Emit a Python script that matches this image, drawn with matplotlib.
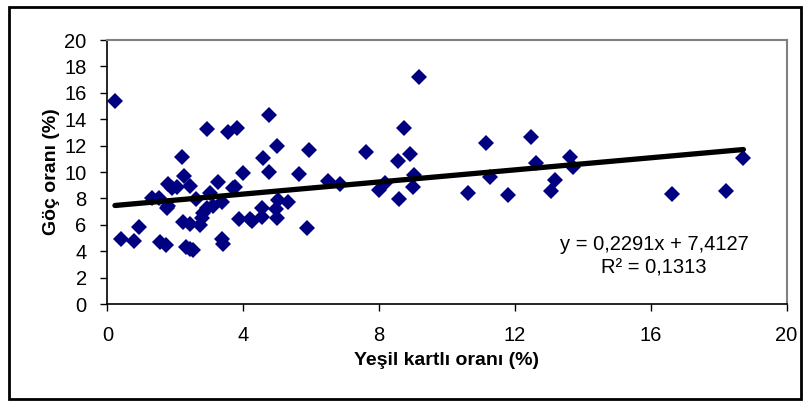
import matplotlib
matplotlib.use('Agg')
from matplotlib import pyplot as plt
from matplotlib.patches import Rectangle

plt.rcParams['font.family'] = ['Liberation Sans', 'DejaVu Sans']

# Yesil kartli orani (%) ve Goc orani (%)
yesil = [0.22, 0.39, 0.78, 0.93, 1.30, 1.53, 1.55, 1.72, 1.74, 1.79,
         1.77, 1.89, 2.04, 2.20, 2.26, 2.43, 2.23, 2.43, 2.31, 2.43,
         2.53, 2.60, 2.72, 2.77, 2.82, 2.92, 2.94, 3.02, 3.12, 3.26,
         3.36, 3.36, 3.39, 3.56, 3.70, 3.76, 3.82, 3.88, 4.00, 4.20,
         4.25, 4.56, 4.56, 4.57, 4.77, 4.77, 4.95, 4.98, 5.03, 5.00,
         5.33, 5.65, 5.87, 5.94, 6.49, 6.85, 7.61, 8.00, 8.17, 8.57,
         8.60, 8.74, 8.91, 8.99, 9.03, 9.18, 10.61, 11.15, 11.27, 11.79,
         12.47, 12.62, 13.05, 13.18, 13.62, 13.70, 16.64, 18.22, 18.73]
goc = [15.4, 4.92, 4.80, 5.86, 8.00, 8.00, 4.72, 4.47, 7.30, 7.45,
       9.09, 8.76, 8.84, 11.16, 9.72, 8.96, 6.19, 6.06, 4.29, 4.14,
       4.09, 7.93, 5.98, 6.49, 6.87, 7.25, 13.28, 8.38, 7.45, 9.27,
       7.75, 4.92, 4.55, 13.03, 8.76, 8.89, 13.36, 6.41, 9.90, 6.42,
       6.31, 7.30, 6.60, 11.08, 14.32, 10.00, 7.20, 6.49, 7.88, 12.00,
       7.75, 9.85, 5.73, 11.70, 9.34, 9.09, 11.54, 8.64, 9.19, 10.83,
       7.98, 13.30, 11.36, 8.89, 9.77, 17.20, 8.43, 12.20, 9.60, 8.23,
       12.63, 10.66, 8.58, 9.39, 11.11, 10.40, 8.31, 8.56, 11.08]

# Trend cizgisi katsayilari (grafikte yazan)
egim = 0.2291
kesim = 7.4127
r2 = 0.1313

fig = plt.figure(figsize=(8.1, 4.08), dpi=100)
ax = fig.add_axes([0.1327, 0.2549, 0.8383, 0.647])

ax.plot(yesil, goc, 'D', color='#000080', markersize=8, markeredgewidth=0, zorder=3)

xs = [min(yesil), max(yesil)]
ys = [egim * v + kesim for v in xs]
ax.plot(xs, ys, color='black', linewidth=3.8, solid_capstyle='round', zorder=4)

ax.set_xlim(0, 20)
ax.set_ylim(0, 20)
ax.set_xticks(range(0, 21, 4))
ax.set_yticks(range(0, 21, 2))
ax.tick_params(direction='out', length=5, width=1, labelsize=14.5, colors='black')
ax.tick_params(axis='x', pad=11)
ax.tick_params(axis='y', pad=10)

for s in ['top', 'right']:
    ax.spines[s].set_color('#808080')
    ax.spines[s].set_linewidth(1.5)
for s in ['left', 'bottom']:
    ax.spines[s].set_color('black')
    ax.spines[s].set_linewidth(1.2)

ax.set_xlabel('Yeşil kartlı oranı (%)', fontsize=14, fontweight='bold', labelpad=5)
ax.set_ylabel('Göç oranı (%)', fontsize=14, fontweight='bold', labelpad=3)

denk = 'y = ' + str(egim).replace('.', ',') + 'x + ' + str(kesim).replace('.', ',')
ax.text(16.1, 4.5, denk, ha='center', va='center', fontsize=14.5)
ax.text(16.1, 2.75, 'R² = ' + str(r2).replace('.', ','), ha='center', va='center', fontsize=14.5)

fig.patches.append(Rectangle((0.011, 0.022), 0.978, 0.96, transform=fig.transFigure,
                             fill=False, edgecolor='black', linewidth=2))

fig.savefig('out.png', dpi=100)
